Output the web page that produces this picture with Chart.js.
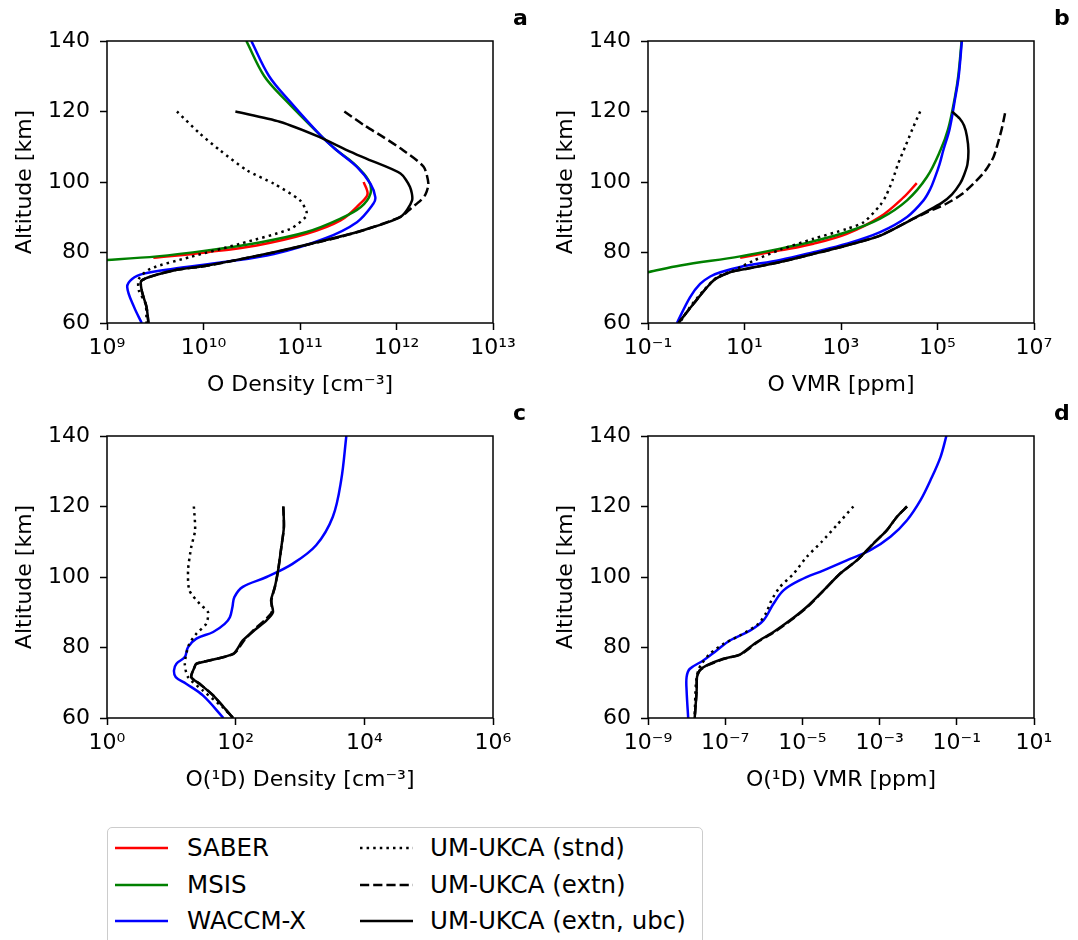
<!DOCTYPE html>
<html lang="en">
<head>
<meta charset="UTF-8">
<title>O and O(1D) profiles</title>
<script src="https://cdn.jsdelivr.net/npm/chart.js"></script>
<style>
  body { margin: 0; width: 1078px; height: 940px; overflow: hidden; position: relative; background: #fff;
         font-family: "DejaVu Sans", sans-serif; color: #000; }
  canvas { position: absolute; }
  .letter { position: absolute; font-weight: bold; font-size: 22px; line-height: 22px; }
  .legend { position: absolute; left: 107px; top: 827px; width: 596px; height: 140px; box-sizing: border-box;
            border: 1px solid #ccc; border-radius: 5px; background: #fff; }
  .legend .item { position: absolute; font-size: 24.5px; line-height: 28px; white-space: nowrap; }
  .legend svg { position: absolute; }
</style>
</head>
<body>

<canvas id="chartA" width="540" height="400"></canvas>
<canvas id="chartB" width="540" height="400"></canvas>
<canvas id="chartC" width="540" height="400"></canvas>
<canvas id="chartD" width="540" height="400"></canvas>

<div class="letter" style="left:513px; top:7px;">a</div>
<div class="letter" style="left:1054px; top:7px;">b</div>
<div class="letter" style="left:513px; top:402px;">c</div>
<div class="letter" style="left:1054px; top:402px;">d</div>

<div class="legend" id="legend"></div>

<script>
// altitude axis (km)
const altTicks = [60, 80, 100, 120, 140];

// panel a: O density [cm-3]
const aTicks = [1e9, 1e10, 1e11, 1e12, 1e13];
const aTickLabels = ['10⁹', '10¹⁰', '10¹¹', '10¹²', '10¹³'];
const aSaberAlt = [100, 96.5, 93.8, 89.1, 85.3, 82.0, 80.1, 78.5];
const aSaber = [4.57e11, 5.01e11, 4.17e11, 2.63e11, 1.17e11, 3.55e10, 1.10e10, 3.02e9];
const aMsisAlt = [140, 130, 123, 113, 109, 105.2, 100.5, 96.7, 92.9, 89.6, 85.8, 82.7, 80.6, 78.9, 77.9, 77.3];
const aMsis = [2.78e10, 4.27e10, 7.21e10, 1.66e11, 2.40e11, 3.63e11, 5.13e11, 5.37e11, 4.27e11, 2.63e11, 1.17e11, 3.55e10, 1.10e10, 3.31e9, 1.0e9, 4.0e8];
const aWaccmAlt = [140, 130, 123, 113, 109, 104.3, 99.5, 95.7, 93.8, 88.6, 83.9, 79.6, 77.3, 75.4, 74.0, 72.5, 70.2, 64.5, 60];
const aWaccm = [3.13e10, 4.79e10, 7.76e10, 1.66e11, 2.40e11, 3.89e11, 5.37e11, 6.03e11, 5.75e11, 3.89e11, 1.78e11, 5.37e10, 1.62e10, 4.90e9, 2.40e9, 1.82e9, 1.62e9, 1.91e9, 2.29e9];
const aStndAlt = [120, 113.8, 109, 103.3, 99.5, 94.8, 91.5, 90.1, 86.7, 82.5, 78.7, 75.4, 72.5, 69.2, 65.4, 60];
const aStnd = [5.31e9, 9.12e9, 1.48e10, 2.82e10, 5.37e10, 1.0e11, 1.17e11, 1.15e11, 7.94e10, 2.40e10, 7.24e9, 2.82e9, 2.14e9, 2.14e9, 2.51e9, 2.57e9];
const aExtnAlt = [120, 116, 112.8, 109, 104.3, 99.5, 96.5, 94.8, 92.5, 90.1, 85.8, 83.4, 80.1, 76.3, 74.9, 72.1, 69.2, 64.5, 60];
const aExtn = [2.88e11, 4.68e11, 7.24e11, 1.17e12, 1.91e12, 2.14e12, 2.0e12, 1.78e12, 1.41e12, 1.10e12, 3.98e11, 1.82e11, 5.5e10, 1.12e10, 4.9e9, 2.29e9, 2.29e9, 2.57e9, 2.69e9];
const aUbcAlt = [120, 117.1, 112.8, 109, 106.5, 102.4, 98.6, 94.8, 90.1, 85.8, 83.4, 80.1, 76.3, 74.9, 72.1, 69.2, 64.5, 60];
const aUbc = [2.14e10, 6.17e10, 1.58e11, 3.09e11, 5.0e11, 1.10e12, 1.38e12, 1.45e12, 1.10e12, 3.89e11, 1.78e11, 5.37e10, 1.10e10, 4.90e9, 2.29e9, 2.29e9, 2.57e9, 2.69e9];

// panel b: O VMR [ppm]
const bTicks = [1e-1, 1e1, 1e3, 1e5, 1e7];
const bTickLabels = ['10⁻¹', '10¹', '10³', '10⁵', '10⁷'];
const bSaberAlt = [99.7, 95.7, 90.1, 85.3, 82.5, 80.6, 78.5];
const bSaber = [3.72e4, 2.0e4, 6.46e3, 1.32e3, 269, 55.0, 8.13];
const bMsisAlt = [140, 130, 124, 115, 109, 101.4, 94.8, 89.6, 85.8, 83.2, 81.1, 78.9, 76.3, 74.4, 73.9];
const bMsis = [3.16e5, 2.69e5, 2.29e5, 1.66e5, 1.15e5, 6.03e4, 2.34e4, 6.46e3, 1.32e3, 269, 55.0, 8.13, 0.468, 0.1, 0.063];
const bWaccmAlt = [140, 130, 124, 115, 109, 105, 101.4, 98, 94.8, 90.1, 85.8, 82.5, 80.1, 77.9, 75.9, 74.4, 73.2, 71.1, 67.3, 60];
const bWaccm = [3.2e5, 2.75e5, 2.34e5, 1.78e5, 1.32e5, 1.10e5, 8.91e4, 7.08e4, 5.13e4, 2.34e4, 6.46e3, 1.32e3, 269, 55.0, 8.13, 3.16, 1.95, 1.20, 0.741, 0.398];
const bStndAlt = [120, 115, 110, 105, 100.5, 96, 93.4, 88.6, 86.7, 83.9, 80.8, 77.7, 74.9, 73, 69.2, 64.5, 60];
const bStnd = [4.37e4, 3.02e4, 2.14e4, 1.51e4, 1.17e4, 8.51e3, 6.46e3, 2.95e3, 1.32e3, 269, 55.0, 15.5, 5.89, 2.69, 1.41, 0.741, 0.447];
const bExtnAlt = [119.5, 115, 111, 107.1, 103, 99.6, 96.5, 93.9, 91.5, 89.6, 84.8, 82, 79.6, 77.3, 75.4, 74.4, 72.1, 65.4, 60];
const bExtn = [2.51e6, 2.14e6, 1.78e6, 1.45e6, 9.55e5, 5.62e5, 3.16e5, 1.55e5, 6.31e4, 3.16e4, 6.46e3, 1.32e3, 269, 55.0, 11.2, 5.01, 2.29, 0.871, 0.427];
const bUbcAlt = [120, 118, 116, 113, 109, 105, 102, 99.6, 96.5, 94, 89.6, 84.8, 82, 79.6, 77.3, 75.4, 74.4, 72.1, 65.4, 60];
const bUbc = [2.0e5, 2.88e5, 3.55e5, 4.07e5, 4.37e5, 4.17e5, 3.55e5, 2.95e5, 2.0e5, 1.20e5, 3.16e4, 6.46e3, 1.32e3, 269, 55.0, 11.2, 5.01, 2.29, 0.871, 0.427];

// panel c: O(1D) density [cm-3]
const cTicks = [1e0, 1e2, 1e4, 1e6];
const cTickLabels = ['10⁰', '10²', '10⁴', '10⁶'];
const cWaccmAlt = [140, 127.5, 117.1, 109.0, 103.8, 100, 97.2, 94.3, 91.5, 88.6, 86.7, 84.4, 82.5, 80.1, 77.3, 75.4, 73.5, 71.6, 69.7, 66.4, 60];
const cWaccm = [5.25e3, 4.37e3, 3.24e3, 1.78e3, 776, 302, 129, 95.5, 89.1, 81.3, 67.6, 44.7, 24.5, 18.2, 16.2, 12.0, 11.0, 11.7, 17.0, 30.9, 64.6];
const cStndAlt = [120, 113.3, 108.5, 101.9, 96.2, 92.4, 90, 86.7, 83.9, 80.6, 75.4, 71.6, 67.8, 63, 60];
const cStnd = [22.4, 23.4, 20.4, 18.2, 19.1, 27.5, 37.2, 34.7, 24.5, 18.6, 16.2, 18.2, 30.9, 63.1, 91.2];
const cExtnAlt = [120, 114.2, 108.5, 101.9, 97.2, 93.4, 90.0, 87.7, 85.3, 82.0, 78.2, 75.4, 74.4, 71.6, 69.7, 66.4, 60];
const cExtn = [550, 562, 513, 457, 407, 360, 363, 282, 200, 135, 93, 24.5, 22.9, 20.4, 27.5, 44.7, 91.2];
const cUbcAlt = [120, 114.2, 108.5, 101.9, 97.2, 93.4, 90.0, 87.7, 85.3, 82.0, 78.2, 75.4, 74.4, 71.6, 69.7, 66.4, 60];
const cUbc = [550, 562, 513, 457, 407, 355, 380, 302, 209, 129, 91.2, 24.5, 22.9, 20.4, 27.5, 44.7, 91.2];

// panel d: O(1D) VMR [ppm]
const dTicks = [1e-9, 1e-7, 1e-5, 1e-3, 1e-1, 1e1];
const dTickLabels = ['10⁻⁹', '10⁻⁷', '10⁻⁵', '10⁻³', '10⁻¹', '10¹'];
const dWaccmAlt = [140, 134.1, 127.5, 121.8, 116.1, 111.4, 107.6, 104.7, 101.9, 99.1, 96.2, 92.4, 87.7, 84.8, 82.0, 79.1, 76.3, 73.9, 71.6, 67.8, 60];
const dWaccm = [5.37e-2, 3.80e-2, 2.09e-2, 1.15e-2, 5.13e-3, 1.91e-3, 5.75e-4, 1.41e-4, 3.55e-5, 8.71e-6, 3.24e-6, 1.78e-6, 9.77e-7, 4.37e-7, 1.32e-7, 5.89e-8, 2.69e-8, 1.20e-8, 1.0e-8, 1.0e-8, 1.10e-8];
const dStndAlt = [120, 114.7, 110, 105.7, 100.9, 97.2, 93.4, 90.0, 86.7, 83.4, 81.0, 78.2, 75.4, 73.5, 69.7, 60];
const dStnd = [2.09e-4, 7.76e-5, 3.16e-5, 1.29e-5, 5.89e-6, 2.63e-6, 1.58e-6, 1.17e-6, 7.24e-7, 2.40e-7, 8.91e-8, 3.98e-8, 2.45e-8, 2.0e-8, 1.74e-8, 1.62e-8];
const dExtnAlt = [120, 117.1, 113.3, 109.5, 104.7, 101.0, 96.2, 91.5, 87.7, 84.4, 81.5, 78.0, 76.8, 74.9, 73.5, 71.6, 67.8, 60];
const dExtn = [5.13e-3, 2.82e-3, 1.55e-3, 6.92e-4, 2.57e-4, 9.55e-5, 3.55e-5, 1.35e-5, 5.0e-6, 1.9e-6, 6.8e-7, 2.5e-7, 9.5e-8, 3.4e-8, 2.19e-8, 1.86e-8, 1.82e-8, 1.62e-8];
const dUbcAlt = [120, 117.1, 113.3, 109.5, 104.7, 101.0, 96.2, 91.5, 87.7, 84.4, 81.5, 78.0, 76.8, 74.9, 73.5, 71.6, 67.8, 60];
const dUbc = [5.13e-3, 2.82e-3, 1.55e-3, 6.92e-4, 2.57e-4, 9.55e-5, 3.55e-5, 1.29e-5, 4.79e-6, 1.78e-6, 6.46e-7, 2.40e-7, 8.91e-8, 3.31e-8, 2.19e-8, 1.86e-8, 1.82e-8, 1.62e-8];

// line styles for each source
const styles = {
    saber: { label: 'SABER', color: '#ff0000', dash: [], tension: 0.35, order: 6 },
    msis: { label: 'MSIS', color: '#008000', dash: [], tension: 0.35, order: 5 },
    waccm: { label: 'WACCM-X', color: '#0000ff', dash: [], tension: 0.35, order: 4 },
    stnd: { label: 'UM-UKCA (stnd)', color: '#000000', dash: [2.5, 4.1], tension: 0.25, order: 3 },
    extn: { label: 'UM-UKCA (extn)', color: '#000000', dash: [9.2, 4], tension: 0.25, order: 2 },
    ubc: { label: 'UM-UKCA (extn, ubc)', color: '#000000', dash: [], tension: 0.25, order: 1 },
};

Chart.defaults.font.family = '"DejaVu Sans", sans-serif';
Chart.defaults.font.size = 22;
Chart.defaults.color = '#000';

function points(xs, alts) {
    return xs.map((x, i) => ({ x: x, y: alts[i] }));
}

function dataset(key, xs, alts) {
    const s = styles[key];
    return {
        label: s.label,
        data: points(xs, alts),
        borderColor: s.color,
        borderWidth: 2.5,
        borderDash: s.dash,
        tension: s.tension,
        pointRadius: 0,
        fill: false,
        order: s.order,
    };
}

// box round the plot area, like matplotlib spines
const framePlugin = {
    id: 'frame',
    afterDraw(chart) {
        const { ctx, chartArea: a } = chart;
        ctx.save();
        ctx.strokeStyle = '#000';
        ctx.lineWidth = 1.5;
        ctx.strokeRect(a.left, a.top, a.right - a.left, a.bottom - a.top);
        ctx.restore();
    }
};

const tickGrid = { display: true, drawOnChartArea: false, drawTicks: true, tickLength: 7, tickWidth: 1.5, tickColor: '#000' };

function makePanel(canvasId, areaLeft, areaTop, xTicks, xTickLabels, xTitle, datasets) {
    const canvas = document.getElementById(canvasId);
    canvas.style.left = (areaLeft - 107) + 'px';
    canvas.style.top = (areaTop - 41) + 'px';

    return new Chart(canvas, {
        type: 'line',
        data: { datasets: datasets },
        plugins: [framePlugin],
        options: {
            responsive: false,
            animation: false,
            layout: { padding: { top: 41, right: 47, left: 0, bottom: 0 } },
            plugins: { legend: { display: false }, tooltip: { enabled: false } },
            scales: {
                x: {
                    type: 'logarithmic',
                    min: xTicks[0],
                    max: xTicks[xTicks.length - 1],
                    afterBuildTicks: (scale) => { scale.ticks = xTicks.map(v => ({ value: v })); },
                    afterFit: (scale) => { scale.height = 77; },
                    ticks: {
                        autoSkip: false, maxRotation: 0, padding: 5,
                        callback: (value, index) => xTickLabels[index],
                    },
                    grid: tickGrid,
                    border: { display: false },
                    title: { display: true, text: xTitle, padding: { top: 0, bottom: 2 } },
                },
                y: {
                    type: 'linear',
                    min: 60,
                    max: 140,
                    afterBuildTicks: (scale) => { scale.ticks = altTicks.map(v => ({ value: v })); },
                    afterFit: (scale) => { scale.width = 107; },
                    ticks: { padding: 10, callback: (value) => String(value) },
                    grid: tickGrid,
                    border: { display: false },
                    title: { display: true, text: 'Altitude [km]', padding: { top: 12, bottom: 0 } },
                }
            }
        }
    });
}

makePanel('chartA', 107, 41, aTicks, aTickLabels, 'O Density [cm⁻³]', [
    dataset('saber', aSaber, aSaberAlt),
    dataset('msis', aMsis, aMsisAlt),
    dataset('waccm', aWaccm, aWaccmAlt),
    dataset('stnd', aStnd, aStndAlt),
    dataset('extn', aExtn, aExtnAlt),
    dataset('ubc', aUbc, aUbcAlt),
]);

makePanel('chartB', 648, 41, bTicks, bTickLabels, 'O VMR [ppm]', [
    dataset('saber', bSaber, bSaberAlt),
    dataset('msis', bMsis, bMsisAlt),
    dataset('waccm', bWaccm, bWaccmAlt),
    dataset('stnd', bStnd, bStndAlt),
    dataset('extn', bExtn, bExtnAlt),
    dataset('ubc', bUbc, bUbcAlt),
]);

makePanel('chartC', 107, 436, cTicks, cTickLabels, 'O(¹D) Density [cm⁻³]', [
    dataset('waccm', cWaccm, cWaccmAlt),
    dataset('stnd', cStnd, cStndAlt),
    dataset('extn', cExtn, cExtnAlt),
    dataset('ubc', cUbc, cUbcAlt),
]);

makePanel('chartD', 648, 436, dTicks, dTickLabels, 'O(¹D) VMR [ppm]', [
    dataset('waccm', dWaccm, dWaccmAlt),
    dataset('stnd', dStnd, dStndAlt),
    dataset('extn', dExtn, dExtnAlt),
    dataset('ubc', dUbc, dUbcAlt),
]);

// shared legend, two columns of three
const legendOrder = ['saber', 'msis', 'waccm', 'stnd', 'extn', 'ubc'];
const legend = document.getElementById('legend');
legendOrder.forEach((key, i) => {
    const s = styles[key];
    const col = Math.floor(i / 3);
    const row = i % 3;
    const handleX = col === 0 ? 7 : 252;
    const textX = col === 0 ? 79 : 322;
    const cy = 20 + row * 36.5;

    const svg = document.createElementNS('http://www.w3.org/2000/svg', 'svg');
    svg.setAttribute('width', '54');
    svg.setAttribute('height', '10');
    svg.style.left = handleX + 'px';
    svg.style.top = (cy - 5) + 'px';
    const line = document.createElementNS('http://www.w3.org/2000/svg', 'line');
    line.setAttribute('x1', '0');
    line.setAttribute('x2', '53');
    line.setAttribute('y1', '5');
    line.setAttribute('y2', '5');
    line.setAttribute('stroke', s.color);
    line.setAttribute('stroke-width', '2.5');
    if (s.dash.length) line.setAttribute('stroke-dasharray', s.dash.join(' '));
    svg.appendChild(line);
    legend.appendChild(svg);

    const text = document.createElement('div');
    text.className = 'item';
    text.style.left = textX + 'px';
    text.style.top = (cy - 14) + 'px';
    text.textContent = s.label;
    legend.appendChild(text);
});
</script>
</body>
</html>
